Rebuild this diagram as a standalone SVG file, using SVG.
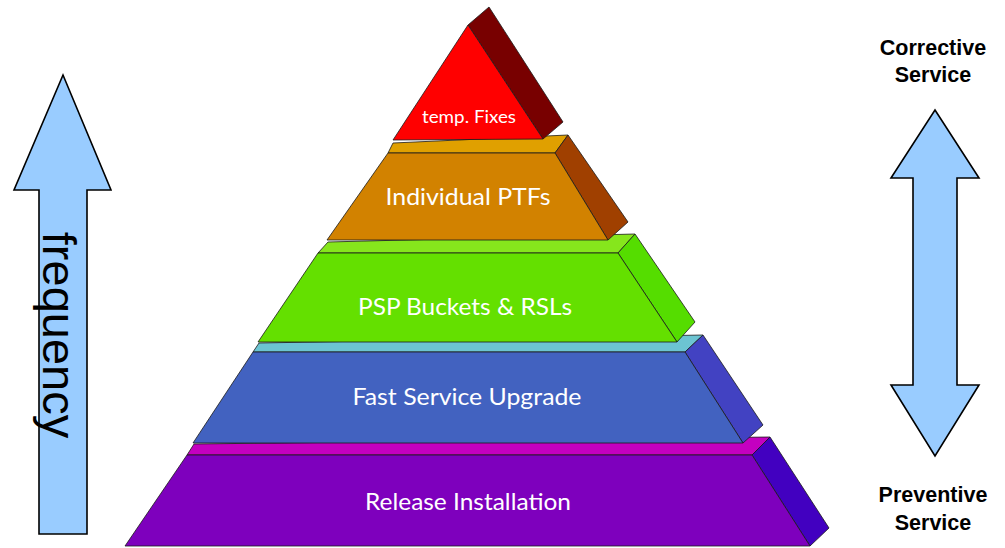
<svg xmlns="http://www.w3.org/2000/svg" width="1005" height="548" viewBox="0 0 1005 548">
<style>
.face{stroke:#1a1a1a;stroke-width:0.8;stroke-linejoin:round}
.lbl{font-family:Lato,"Open Sans",sans-serif;fill:#ffffff;text-anchor:middle}
.arrow{fill:#99ccff;stroke:#000000;stroke-width:1.6;stroke-linejoin:miter}
.side{font-family:"Liberation Sans",Arial,sans-serif;font-weight:bold;font-size:21.5px;fill:#000000;text-anchor:middle}
</style>
<rect width="1005" height="548" fill="#ffffff"/>

<g id="frequency-arrow">
<polygon class="arrow" points="63,75 111,190 87,190 87,534 39,534 39,190 14,190"/>
<text transform="translate(43,335) rotate(90)" font-family="Liberation Sans,Arial,sans-serif" font-size="47" text-anchor="middle" fill="#000000">frequency</text>
</g>

<g id="service-arrow">
<polygon class="arrow" points="935,110 979,178 957,178 957,385 979,385 935,456 891,385 913,385 913,178 891,178"/>
<text class="side" x="933" y="55">Corrective</text>
<text class="side" x="933" y="82">Service</text>
<text class="side" x="933" y="502">Preventive</text>
<text class="side" x="933" y="530">Service</text>
</g>

<g id="release-installation">
<polygon class="face" fill="#c400c0" points="187,455 752,455 770,437 194,444"/>
<polygon class="face" fill="#4200c0" points="752,455 770,437 829,528 810,546"/>
<polygon class="face" fill="#7e00bd" points="187,455 752,455 810,546 125,546"/>
<text class="lbl" x="468" y="510" font-size="23" textLength="206" lengthAdjust="spacingAndGlyphs">Release Installation</text>
</g>

<g id="fast-service-upgrade">
<polygon class="face" fill="#6cc4d2" points="253,352 685,352 703,335 259,343"/>
<polygon class="face" fill="#4242c2" points="685,352 703,335 763,425 743,443"/>
<polygon class="face" fill="#4262c0" points="253,352 685,352 743,443 193,443"/>
<text class="lbl" x="467" y="405" font-size="23" textLength="229" lengthAdjust="spacingAndGlyphs">Fast Service Upgrade</text>
</g>

<g id="psp-buckets">
<polygon class="face" fill="#86e61c" points="318,253 618,253 635,234 328,242"/>
<polygon class="face" fill="#55dd00" points="618,253 635,234 695,322 677,342"/>
<polygon class="face" fill="#64e000" points="318,253 618,253 677,342 258,342"/>
<text class="lbl" x="465" y="315" font-size="24" textLength="214" lengthAdjust="spacingAndGlyphs">PSP Buckets &amp; RSLs</text>
</g>

<g id="individual-ptfs">
<polygon class="face" fill="#e0a000" points="388,153 555,153 568,135 393,143"/>
<polygon class="face" fill="#a04000" points="555,153 568,135 628,222 608,240"/>
<polygon class="face" fill="#d28200" points="388,153 555,153 608,240 327,240"/>
<text class="lbl" x="468" y="205" font-size="23" textLength="165" lengthAdjust="spacingAndGlyphs">Individual PTFs</text>
</g>

<g id="temp-fixes">
<polygon class="face" fill="#780000" points="468,25 489,7 563,122 543,139"/>
<polygon class="face" fill="#ff0000" points="468,25 543,139 393,140"/>
<text class="lbl" x="469" y="123" font-size="17" textLength="94" lengthAdjust="spacingAndGlyphs">temp. Fixes</text>
</g>
</svg>
